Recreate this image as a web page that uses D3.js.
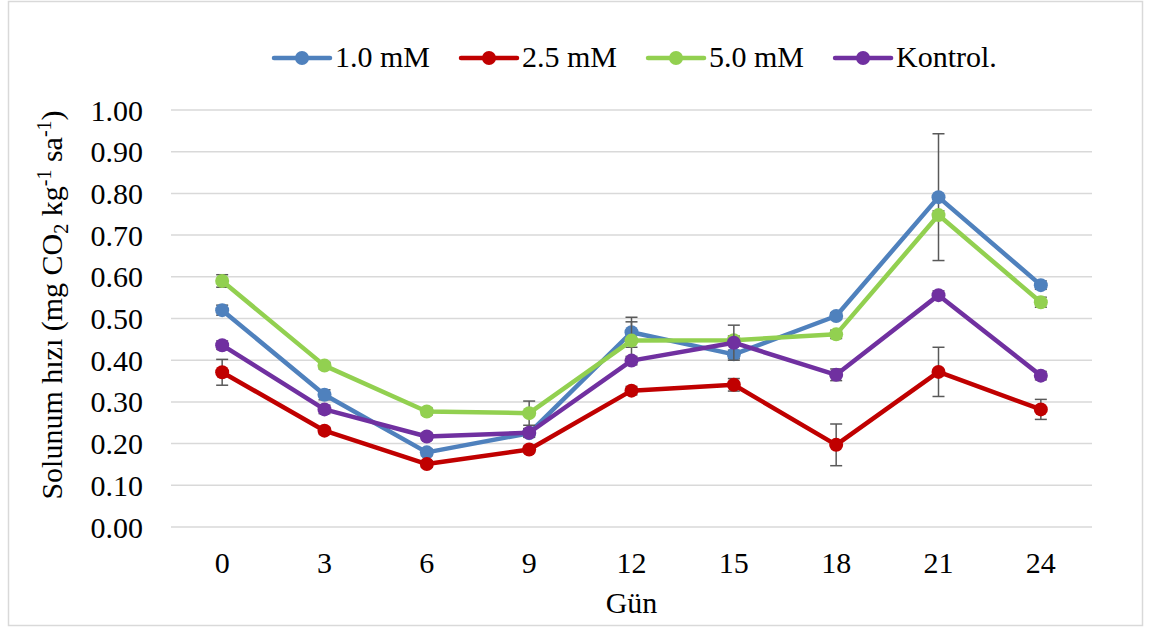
<!DOCTYPE html>
<html>
<head>
<meta charset="utf-8">
<script src="https://cdn.jsdelivr.net/npm/d3@7"></script>
<style>
  html, body { margin: 0; padding: 0; background: #fff; }
  svg text { font-family: 'Liberation Serif', 'Times New Roman', Times, 'DejaVu Serif', serif; fill: #000; }
</style>
</head>
<body>
<div id="chart"></div>
<script>
// Solunum hizi - line chart with error bars
const days = ["0", "3", "6", "9", "12", "15", "18", "21", "24"];
const yTicks = [0, 0.1, 0.2, 0.3, 0.4, 0.5, 0.6, 0.7, 0.8, 0.9, 1.0];

const names = ["1.0 mM", "2.5 mM", "5.0 mM", "Kontrol."];
const colors = ["#4f81bd", "#c00000", "#92d050", "#7030a0"];

const mM10 = [0.520, 0.317, 0.179, 0.225, 0.467, 0.414, 0.506, 0.791, 0.580];
const mM25 = [0.371, 0.231, 0.151, 0.186, 0.327, 0.341, 0.197, 0.372, 0.282];
const mM50 = [0.590, 0.387, 0.277, 0.273, 0.447, 0.448, 0.462, 0.748, 0.539];
const kontrol = [0.436, 0.282, 0.217, 0.226, 0.399, 0.442, 0.365, 0.556, 0.363];

// standard errors
const err10 = [0.012, 0.012, 0.008, 0.010, 0.036, 0.010, 0.008, 0.152, 0.010];
const err25 = [0.031, 0.008, 0.008, 0.008, 0.010, 0.015, 0.050, 0.059, 0.024];
const err50 = [0.015, 0.008, 0.008, 0.029, 0.045, 0.010, 0.010, 0.010, 0.012];
const errK = [0.010, 0.010, 0.008, 0.010, 0.010, 0.042, 0.014, 0.010, 0.010];

const seriesValues = [mM10, mM25, mM50, kontrol];
const seriesErrors = [err10, err25, err50, errK];

const W = 1152, H = 630;
const plot = { left: 171, right: 1092, top: 110, bottom: 527 };
const FONT = "'Liberation Serif', 'Times New Roman', Times, 'DejaVu Serif', serif";

const svg = d3.select("#chart").append("svg")
  .attr("width", W)
  .attr("height", H)
  .attr("font-family", FONT);

// Outer chart frame
svg.append("rect")
  .attr("x", 8.5)
  .attr("y", 1.5)
  .attr("width", 1134)
  .attr("height", 624)
  .attr("fill", "#fff")
  .attr("stroke", "#d9d9d9")
  .attr("stroke-width", 1.5);

const x = d3.scaleBand()
  .domain(days)
  .range([plot.left, plot.right]);

const y = d3.scaleLinear()
  .domain([0, 1])
  .range([plot.bottom, plot.top]);

const cx = d => x(d) + x.bandwidth() / 2;

// Gridlines
svg.append("g")
  .selectAll("line")
  .data(yTicks)
  .enter()
  .append("line")
  .attr("x1", plot.left)
  .attr("x2", plot.right)
  .attr("y1", d => y(d))
  .attr("y2", d => y(d))
  .attr("stroke", "#d9d9d9")
  .attr("stroke-width", 1.5);

// Y tick labels
svg.append("g")
  .selectAll("text")
  .data(yTicks)
  .enter()
  .append("text")
  .attr("x", 143)
  .attr("y", d => y(d))
  .attr("dy", "0.35em")
  .attr("text-anchor", "end")
  .attr("font-size", "30px")
  .text(d => d3.format(".2f")(d));

// X tick labels
svg.append("g")
  .selectAll("text")
  .data(days)
  .enter()
  .append("text")
  .attr("x", d => cx(d))
  .attr("y", 573)
  .attr("text-anchor", "middle")
  .attr("font-size", "30px")
  .text(d => d);

// X axis title
svg.append("text")
  .attr("x", (plot.left + plot.right) / 2)
  .attr("y", 613)
  .attr("text-anchor", "middle")
  .attr("font-size", "30px")
  .text("Gün");

// Y axis title (with sub/superscripts)
const yTitle = svg.append("text")
  .attr("transform", "translate(62, 305) rotate(-90)")
  .attr("text-anchor", "middle")
  .attr("font-size", "30px");
yTitle.append("tspan").text("Solunum hızı (mg CO");
yTitle.append("tspan").attr("font-size", "20px").attr("dy", 6).text("2");
yTitle.append("tspan").attr("dy", -6).text(" kg");
yTitle.append("tspan").attr("font-size", "20px").attr("dy", -11).text("-1");
yTitle.append("tspan").attr("dy", 11).text(" sa");
yTitle.append("tspan").attr("font-size", "20px").attr("dy", -11).text("-1");
yTitle.append("tspan").attr("dy", 11).text(")");

// Series
const line = d3.line()
  .x((d, i) => cx(days[i]))
  .y(d => y(d));

seriesValues.forEach((vals, s) => {
  const g = svg.append("g").attr("class", "series");
  const errs = seriesErrors[s];

  // Error bars
  const eb = g.selectAll(".err")
    .data(vals)
    .enter()
    .append("g")
    .attr("class", "err")
    .attr("stroke", "#595959")
    .attr("stroke-width", 1.5);
  eb.append("line")
    .attr("x1", (d, i) => cx(days[i]))
    .attr("x2", (d, i) => cx(days[i]))
    .attr("y1", (d, i) => y(d + errs[i]))
    .attr("y2", (d, i) => y(d - errs[i]));
  eb.append("line")
    .attr("x1", (d, i) => cx(days[i]) - 6)
    .attr("x2", (d, i) => cx(days[i]) + 6)
    .attr("y1", (d, i) => y(d + errs[i]))
    .attr("y2", (d, i) => y(d + errs[i]));
  eb.append("line")
    .attr("x1", (d, i) => cx(days[i]) - 6)
    .attr("x2", (d, i) => cx(days[i]) + 6)
    .attr("y1", (d, i) => y(d - errs[i]))
    .attr("y2", (d, i) => y(d - errs[i]));

  g.append("path")
    .datum(vals)
    .attr("d", line)
    .attr("fill", "none")
    .attr("stroke", colors[s])
    .attr("stroke-width", 4.5)
    .attr("stroke-linejoin", "round");

  g.selectAll("circle")
    .data(vals)
    .enter()
    .append("circle")
    .attr("cx", (d, i) => cx(days[i]))
    .attr("cy", d => y(d))
    .attr("r", 7)
    .attr("fill", colors[s]);
});

// Legend
const legend = svg.append("g").attr("class", "legend");
let lx = 274;
names.forEach((name, i) => {
  const item = legend.append("g").attr("transform", `translate(${lx}, 58)`);
  item.append("line")
    .attr("x1", 0)
    .attr("x2", 56)
    .attr("stroke", colors[i])
    .attr("stroke-width", 4.5)
    .attr("stroke-linecap", "round");
  item.append("circle")
    .attr("cx", 28)
    .attr("r", 7)
    .attr("fill", colors[i]);
  const t = item.append("text")
    .attr("x", 61)
    .attr("y", 9)
    .attr("font-size", "30px")
    .text(name);
  lx += 61 + t.node().getComputedTextLength() + 31;
});
</script>
</body>
</html>
